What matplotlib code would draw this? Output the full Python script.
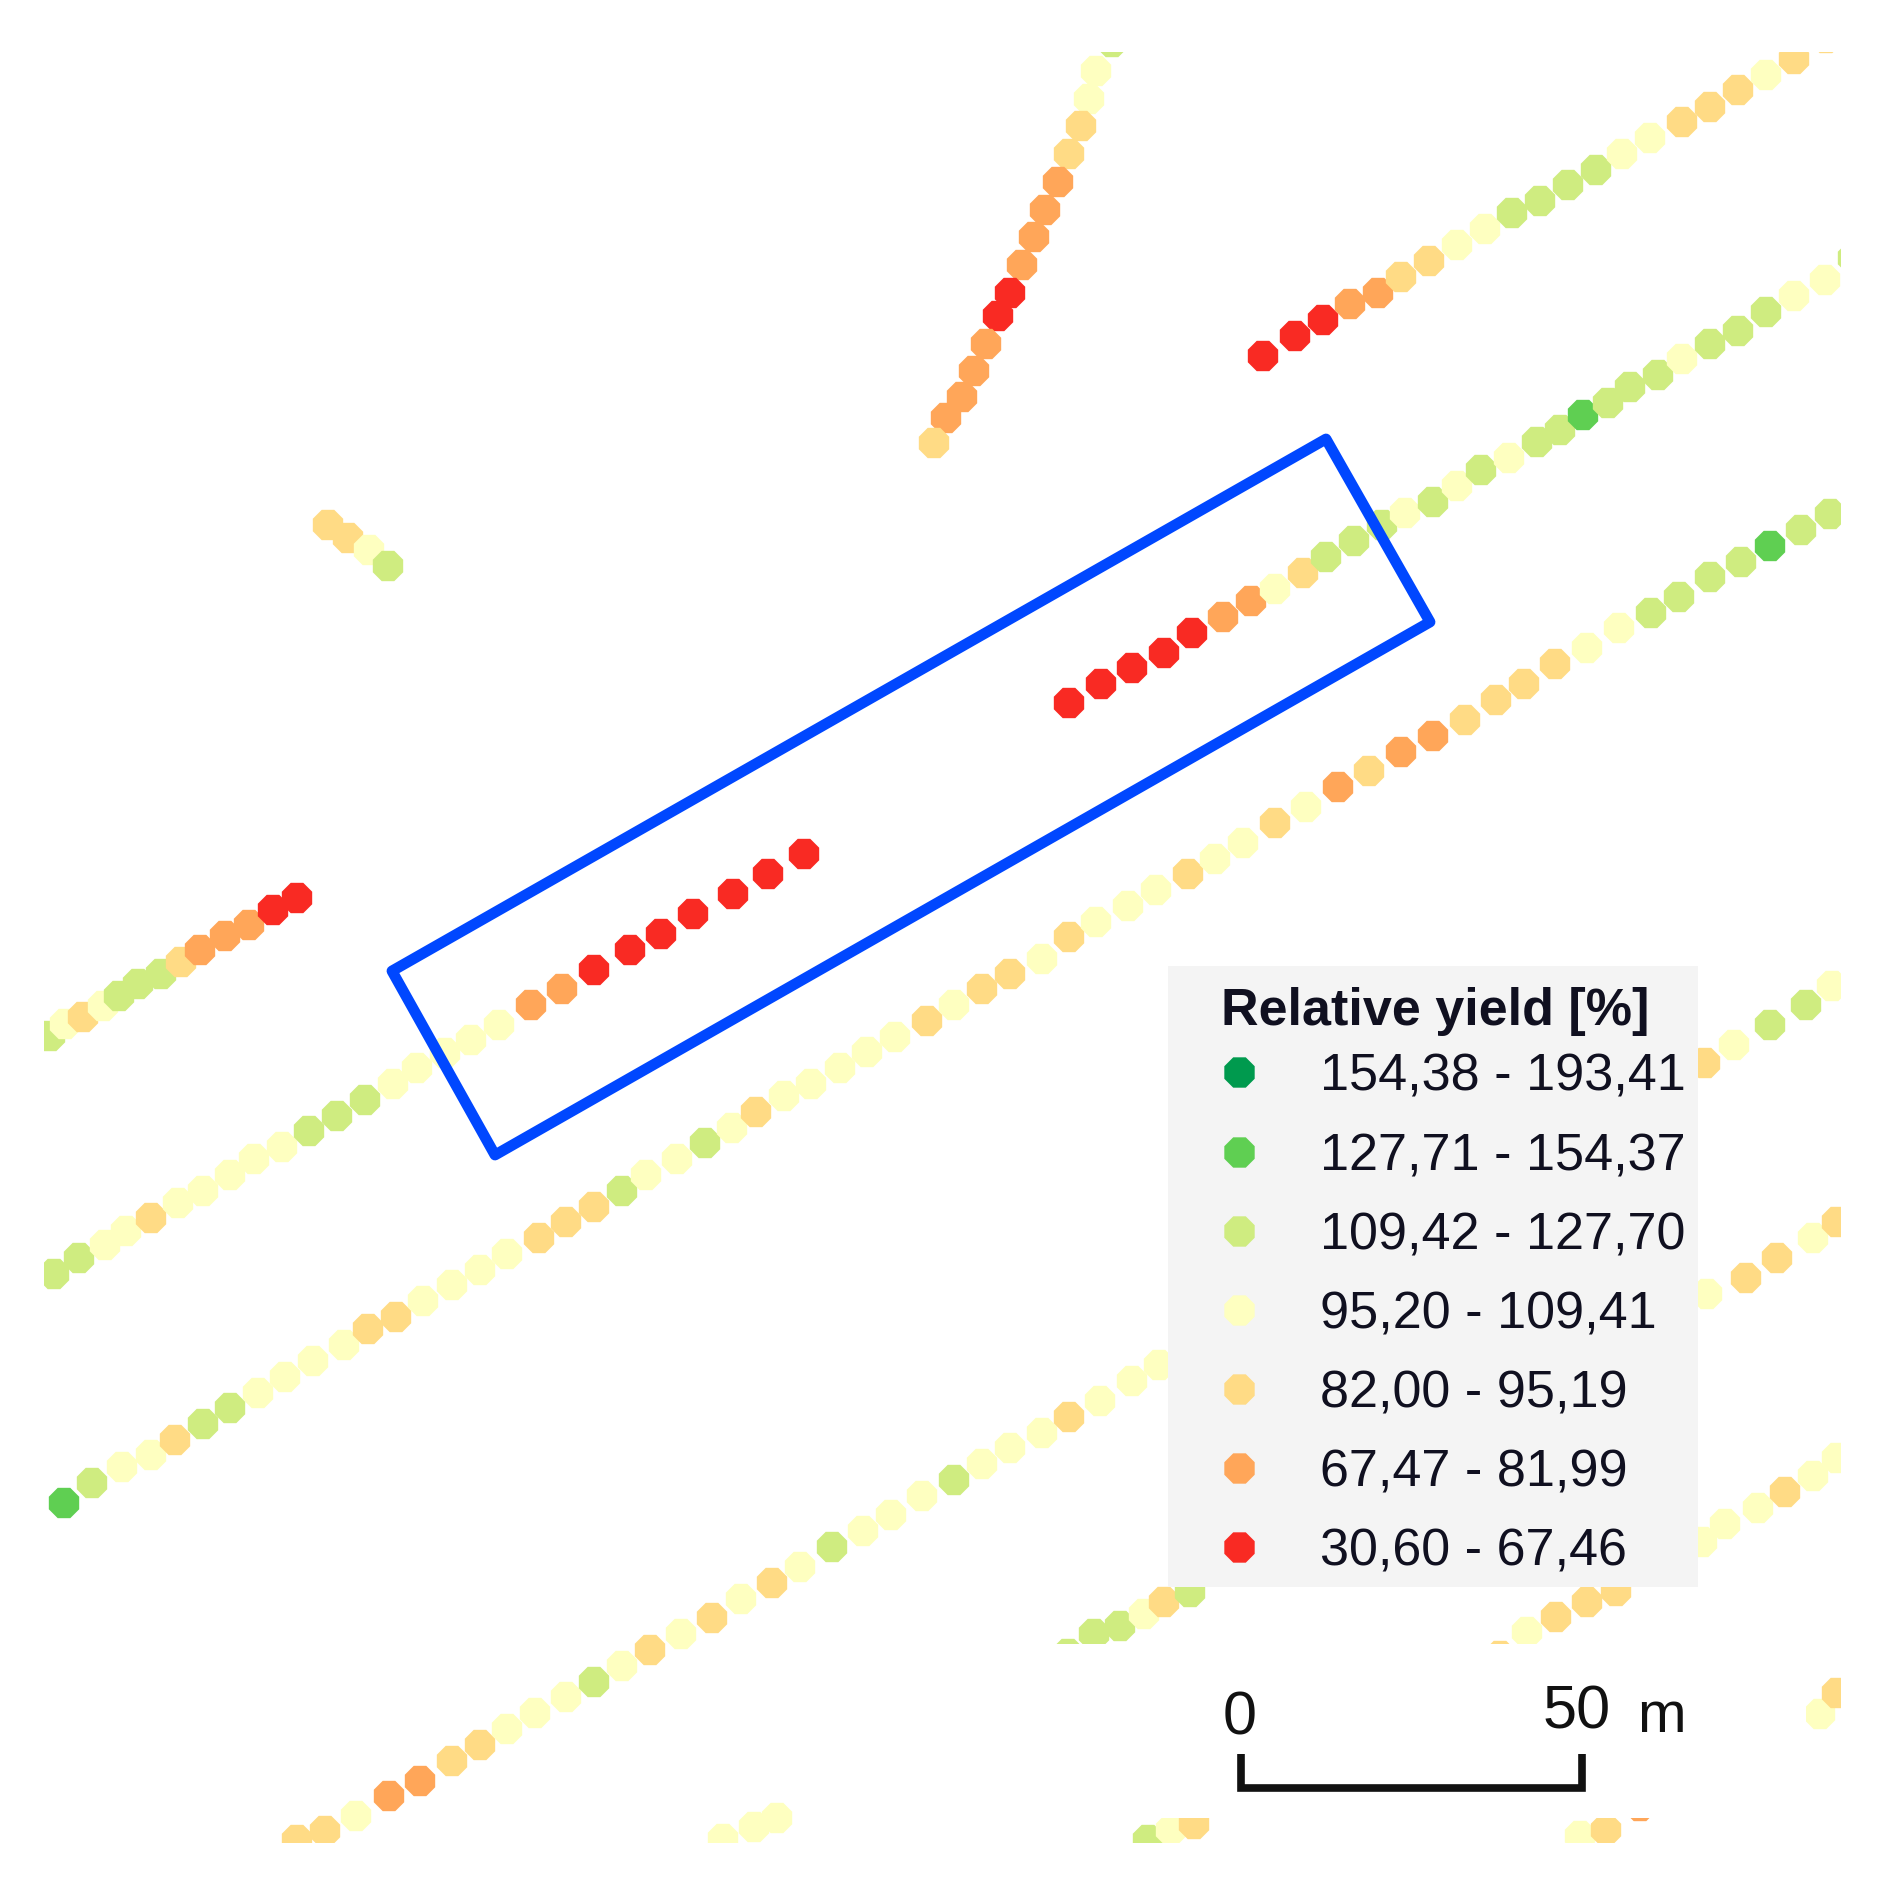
import matplotlib
matplotlib.use("Agg")
import matplotlib.pyplot as plt
from matplotlib.patches import Rectangle, Polygon

plt.rcParams['font.family'] = ['Liberation Sans', 'DejaVu Sans']

W, H = 1903, 1882

class_colors = {'R': '#F92A23', 'O': '#FFA659', 'Y': '#FFDB85', 'L': '#FEFFC0',
                'G': '#CFEC80', 'M': '#5FCF52', 'D': '#009A4E'}
legend_classes = ['D', 'M', 'G', 'L', 'Y', 'O', 'R']
legend_labels = ['154,38 - 193,41', '127,71 - 154,37', '109,42 - 127,70', '95,20 - 109,41',
                 '82,00 - 95,19', '67,47 - 81,99', '30,60 - 67,46']
legend_title = 'Relative yield [%]'

track_a_x = [1112,1096,1089,1081,1069,1058,1045,1034,1022,1010,998,986,974,962,946,934]
track_a_y = [42,71,99,126,154,182,210,237,265,293,316,344,371,397,418,443]
track_a_c = 'GLLYYOOOORROOOOY'

track_b_x = [1263,1295,1323,1350,1378,1401,1429,1457,1485,1512,1540,1568,1596,1622,1650,1682,1710,1738,1766,1794,1826]
track_b_y = [356,336,320,304,293,277,261,245,229,213,201,185,170,154,138,122,107,90,75,59,38]
track_b_c = 'RRROOYYLLGGGGLLYYYLYY'

track_c_x = [54,79,105,126,151,178,203,230,254,282,309,337,365,393,417,445,471,499,531,562,594,630,661,693,733,768,804,
             1069,1101,1132,1164,1192,1223,1251,1275,1303,1326,1354,1382,1405,1433,1457,1481,1509,1537,1560,1583,1608,1630,1658,1682,1710,1738,1766,1794,1825,1853]
track_c_y = [1274,1258,1245,1231,1218,1203,1191,1175,1159,1147,1131,1116,1100,1084,1068,1053,1040,1025,1005,989,970,950,934,914,894,874,854,
             703,684,668,653,633,617,601,589,573,557,541,525,513,502,486,470,458,442,430,415,403,387,375,359,344,331,312,296,280,258]
track_c_c = 'GGLLYLLLLLGGGLLLLLOORRRRRRR' + 'RRRRROOLYGGGLGLGLGGMGGGLGGGLLG'

track_d_x = [50,65,83,103,119,138,161,181,200,225,249,273,297]
track_d_y = [1036,1024,1017,1006,996,984,974,962,950,936,925,910,898]
track_d_c = 'GLYLGGGYOOORR'

track_e_x = [328,348,369,388]
track_e_y = [525,538,550,566]
track_e_c = 'YYLG'

track_f_x = [64,92,122,151,175,203,230,258,285,313,344,368,396,423,452,480,507,539,566,594,622,646,677,705,732,756,784,811,840,867,895,927,954,982,1010,1042,
             1069,1096,1128,1156,1188,1215,1243,1275,1306,1338,1369,1401,1433,1465,1496,1524,1555,1587,1619,1651,1679,1710,1741,1770,1801,1830]
track_f_y = [1503,1483,1467,1455,1440,1424,1408,1393,1377,1361,1345,1329,1317,1301,1285,1270,1254,1238,1222,1207,1191,1175,1159,1143,1128,1112,1096,1084,1068,1052,1037,1021,1005,989,974,959,
             937,922,906,890,874,859,843,823,807,787,771,752,736,720,700,684,664,648,628,613,597,577,562,546,530,514]
track_f_c = 'MGLLYGGLLLLYYLLLLYYYGLLGLYLLLLLYLYYL' + 'YLLLYLLYLOYOOYYYYLLGGGGMGG'

track_g_x = [297,325,356,389,420,452,480,507,535,566,594,622,650,681,712,741,772,800,832,863,891,922,954,982,1010,1042,1069,1100,1132,1159,
             1705,1734,1770,1806,1832]
track_g_y = [1840,1831,1816,1796,1781,1761,1745,1729,1713,1697,1682,1666,1650,1634,1618,1599,1583,1567,1547,1531,1515,1496,1480,1464,1448,1433,1417,1401,1381,1365,
             1063,1045,1025,1005,986]
track_g_c = 'YYLOOYYLLLGLYLYLYLGLLLGLLLYLLL' + 'YLGGL'

track_h_x = [723,754,777,1068,1094,1120,1144,1164,1190,1707,1746,1777,1813,1837]
track_h_y = [1839,1827,1818,1654,1634,1626,1614,1602,1592,1294,1278,1258,1238,1222]
track_h_c = 'LLLGGGLYGLYYLY'

track_i_x = [1148,1171,1194,1500,1527,1556,1587,1616,1702,1725,1758,1785,1813,1837]
track_i_y = [1840,1830,1824,1656,1632,1617,1602,1591,1542,1524,1508,1492,1476,1458]
track_i_c = 'GLYYLYYYLLLYLL'

track_j_x = [1580,1606,1640,1820,1837]
track_j_y = [1836,1830,1806,1714,1693]
track_j_c = 'LYOLY'

plot_x = [392, 1326, 1430, 495]
plot_y = [971, 439, 622, 1155]

tracks = [(track_a_x, track_a_y, track_a_c), (track_b_x, track_b_y, track_b_c),
          (track_c_x, track_c_y, track_c_c), (track_d_x, track_d_y, track_d_c),
          (track_e_x, track_e_y, track_e_c), (track_f_x, track_f_y, track_f_c),
          (track_g_x, track_g_y, track_g_c), (track_h_x, track_h_y, track_h_c),
          (track_i_x, track_i_y, track_i_c), (track_j_x, track_j_y, track_j_c)]

fig = plt.figure(figsize=(W / 100, H / 100), dpi=100)
ax = fig.add_axes([0, 0, 1, 1])
ax.set_xlim(0, W)
ax.set_ylim(H, 0)
ax.axis('off')

MARKER = 560
SHAPE = '8'
clip = Rectangle((44, 52), 1841 - 44, 1843 - 52, transform=ax.transData)
for x, y, c in tracks:
    n = min(len(x), len(y), len(c))
    sc = ax.scatter(x[:n], y[:n], s=MARKER, c=[class_colors[k] for k in c[:n]],
                    marker=SHAPE, linewidths=0, zorder=2)
    sc.set_clip_path(clip)

# mask under the scale bar
ax.add_patch(Rectangle((795, 1644), 1806 - 795, 1818 - 1644, fc='white', ec='none', zorder=3))

# study plot outline
ax.add_patch(Polygon(list(zip(plot_x, plot_y)), closed=True, fill=False, ec='#0047FF',
                     lw=7.8, joinstyle='round', zorder=4))

# legend
ax.add_patch(Rectangle((1168, 966), 1698 - 1168, 1587 - 966, fc='#F4F4F4', ec='none', zorder=5))
ax.text(1221, 1011, legend_title, fontsize=37.5, fontweight='bold', color='#101020',
        va='center', ha='left', zorder=6)
rows = [1072, 1152, 1231, 1310, 1389, 1468, 1547]
for r, k, lab in zip(rows, legend_classes, legend_labels):
    ax.scatter([1239], [r], s=MARKER, c=class_colors[k], marker=SHAPE, linewidths=0, zorder=6)
    ax.text(1320, r + 5, lab, fontsize=37.5, color='#101020', va='center', ha='left', zorder=6)

# scale bar
ax.plot([1241, 1241, 1582, 1582], [1754, 1788, 1788, 1754], color='#111111', lw=5.5,
        solid_joinstyle='miter', solid_capstyle='butt', zorder=6)
ax.text(1240, 1719, '0', fontsize=44, color='#111111', ha='center', va='center', zorder=6)
ax.text(1577, 1713, '50', fontsize=44, color='#111111', ha='center', va='center', zorder=6)
ax.text(1661, 1732, 'm', fontsize=42, color='#111111', ha='center', va='baseline', zorder=6)

fig.savefig('out.png', dpi=100, facecolor='white')
